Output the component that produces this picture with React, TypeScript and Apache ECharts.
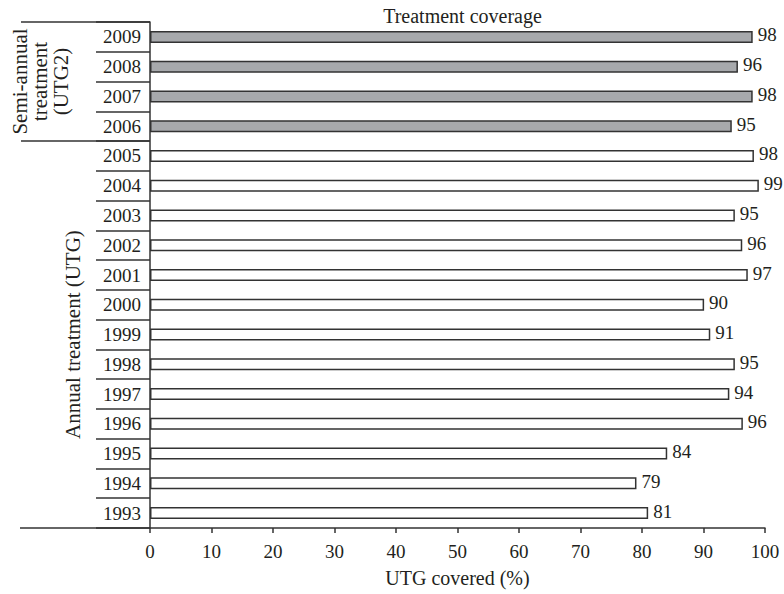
import React, { useEffect, useRef } from "react";
import * as echarts from "echarts";

const years = [
  "1993", "1994", "1995", "1996", "1997", "1998", "1999", "2000", "2001",
  "2002", "2003", "2004", "2005", "2006", "2007", "2008", "2009",
];
const coverage = [
  81, 79.1, 84.1, 96.4, 94.2, 95.1, 91.1, 90.1, 97.2, 96.3, 95.1, 99, 98.2,
  94.6, 98, 95.6, 98,
];
const semiAnnualYears = ["2006", "2007", "2008", "2009"];
const xTicks = { min: 0, max: 100, interval: 10 };

const W = 784;
const H = 594;
const GRID = { left: 150, right: 19, top: 22, bottom: 66 };
const FONT = "'Liberation Serif', 'DejaVu Serif', serif";
const INK = "#231f20";

export default function App() {
  const ref = useRef<HTMLDivElement>(null);

  useEffect(() => {
    if (!ref.current) return;
    const chart = echarts.init(ref.current, null, { renderer: "svg" });
    const plotBottom = H - GRID.bottom;
    const band = (plotBottom - GRID.top) / years.length;
    const semiCount = semiAnnualYears.length;
    const groupSplitY = GRID.top + semiCount * band;
    const semiMid = (GRID.top + groupSplitY) / 2;
    const annualMid = (groupSplitY + plotBottom) / 2;

    chart.setOption({
      animation: false,
      backgroundColor: "#ffffff",
      title: {
        text: "Treatment coverage",
        left: GRID.left + (W - GRID.left - GRID.right) / 2,
        textAlign: "center",
        top: 1,
        textStyle: { fontFamily: FONT, fontSize: 20, fontWeight: "normal", color: INK },
      },
      grid: { ...GRID, outerBoundsMode: "none", containLabel: false },
      xAxis: {
        type: "value",
        min: xTicks.min,
        max: xTicks.max,
        interval: xTicks.interval,
        name: "UTG covered (%)",
        nameLocation: "middle",
        nameGap: 40,
        nameTextStyle: { fontFamily: FONT, fontSize: 20, color: INK },
        axisLine: { show: true, lineStyle: { color: "#333", width: 1.5 } },
        axisTick: { show: true, length: 5, lineStyle: { color: "#333", width: 1.5 } },
        axisLabel: { fontFamily: FONT, fontSize: 19, color: INK, margin: 14 },
        splitLine: { show: false },
      },
      yAxis: {
        type: "category",
        data: years,
        axisLine: { show: true, lineStyle: { color: "#333", width: 1.5 } },
        axisTick: { show: true, length: 54, alignWithLabel: false, lineStyle: { color: "#333", width: 1.5 } },
        axisLabel: { fontFamily: FONT, fontSize: 19, color: INK, margin: 9 },
        splitLine: { show: false },
      },
      series: [
        {
          type: "bar",
          barWidth: 12,
          data: years.map((y, i) => ({
            value: coverage[i],
            itemStyle: {
              color: semiAnnualYears.includes(y) ? "#a7a9ac" : "#ffffff",
              borderColor: "#333",
              borderWidth: 1.5,
            },
          })),
          label: {
            show: true,
            position: "right",
            distance: 5,
            fontFamily: FONT,
            fontSize: 19,
            color: INK,
            offset: [0, -2],
            formatter: (p: any) => String(Math.round(p.value)),
          },
        },
      ],
      graphic: [
        {
          type: "line",
          shape: { x1: 21, y1: GRID.top, x2: GRID.left, y2: GRID.top },
          style: { stroke: "#333", lineWidth: 1.5 },
        },
        {
          type: "line",
          shape: { x1: 21, y1: groupSplitY, x2: GRID.left, y2: groupSplitY },
          style: { stroke: "#333", lineWidth: 1.5 },
        },
        {
          type: "line",
          shape: { x1: 20, y1: plotBottom, x2: GRID.left, y2: plotBottom },
          style: { stroke: "#333", lineWidth: 1.5 },
        },
        {
          type: "text",
          x: 40,
          y: semiMid,
          rotation: Math.PI / 2,
          style: {
            text: "Semi-annual\ntreatment\n(UTG2)",
            fontFamily: FONT,
            fontSize: 21,
            lineHeight: 20.5,
            fill: INK,
            align: "center",
            verticalAlign: "middle",
          },
        },
        {
          type: "text",
          x: 73,
          y: annualMid,
          rotation: Math.PI / 2,
          style: {
            text: "Annual treatment (UTG)",
            fontFamily: FONT,
            fontSize: 21,
            fill: INK,
            align: "center",
            verticalAlign: "middle",
          },
        },
      ],
    });
    return () => chart.dispose();
  }, []);

  return (
    <div
      ref={ref}
      style={{ position: "fixed", left: 0, top: 0, width: W, height: H, background: "#fff" }}
    />
  );
}
